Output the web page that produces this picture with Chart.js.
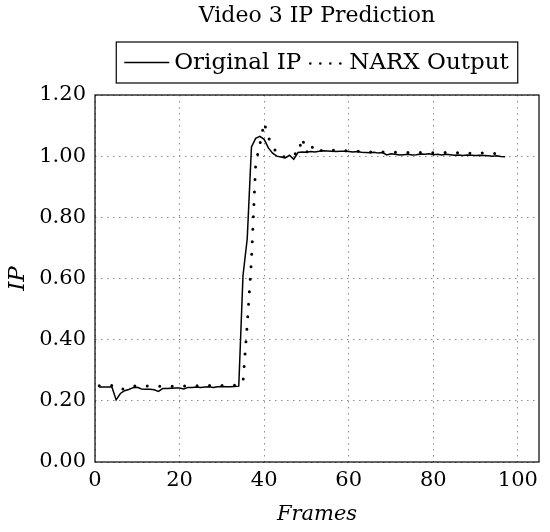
<!DOCTYPE html>
<html>
<head>
<meta charset="utf-8">
<script src="https://cdn.jsdelivr.net/npm/chart.js@4.4.1/dist/chart.umd.min.js"></script>
<style>
  html, body { margin: 0; padding: 0; background: #fff; }
  #wrap { width: 550px; height: 532px; position: relative; }
</style>
</head>
<body>
<div id="wrap"><canvas id="c" width="550" height="532"></canvas></div>
<script>
const titleText = "Video 3 IP Prediction";
const seriesNames = ["Original IP", "NARX Output"];
const xTitle = "Frames";
const yTitle = "IP";
const xTickValues = [0, 20, 40, 60, 80, 100];
const yTickValues = [0, 0.2, 0.4, 0.6, 0.8, 1.0, 1.2];
const xRange = [0, 105];
const yRange = [0, 1.2];

const frames = [1,2,3,4,5,6,7,8,9,10,11,12,13,14,15,16,17,18,19,20,
  21,22,23,24,25,26,27,28,29,30,31,32,33,34,35,36,37,38,39,40,
  41,42,43,44,45,46,47,48,49,50,51,52,53,54,55,56,57,58,59,60,
  61,62,63,64,65,66,67,68,69,70,71,72,73,74,75,76,77,78,79,80,
  81,82,83,84,85,86,87,88,89,90,91,92,93,94,95,96,97];

const originalIP = [0.245,0.245,0.245,0.245,0.203,0.224,0.233,0.237,0.243,0.244,
  0.239,0.238,0.238,0.236,0.231,0.240,0.240,0.241,0.242,0.242,
  0.239,0.244,0.244,0.245,0.244,0.245,0.246,0.244,0.246,0.247,
  0.246,0.246,0.247,0.248,0.610,0.730,1.030,1.058,1.065,1.055,
  1.027,1.010,1.000,0.997,0.994,1.003,0.990,1.012,1.014,1.013,
  1.015,1.014,1.016,1.018,1.017,1.016,1.015,1.016,1.016,1.015,
  1.014,1.015,1.013,1.012,1.011,1.013,1.010,1.012,1.004,1.008,
  1.006,1.004,1.005,1.006,1.004,1.005,1.007,1.006,1.008,1.005,
  1.006,1.004,1.006,1.005,1.003,1.004,1.002,1.004,1.003,1.002,
  1.003,1.002,1.001,1.000,1.001,0.999,0.998];

const narxOutput = [0.249,0.249,0.248,0.250,0.246,0.236,0.240,0.247,0.249,0.248,
  0.247,0.248,0.249,0.248,0.247,0.248,0.249,0.248,0.247,0.249,
  0.248,0.249,0.250,0.249,0.249,0.250,0.250,0.249,0.250,0.250,
  0.251,0.250,0.251,0.251,0.262,0.450,0.660,0.975,1.040,1.110,
  1.060,1.040,1.005,1.000,0.997,1.000,1.010,1.005,1.060,1.010,
  1.040,1.012,1.015,1.022,1.020,1.019,1.020,1.018,1.017,1.019,
  1.018,1.016,1.015,1.017,1.014,1.013,1.012,1.014,1.012,1.011,
  1.013,1.012,1.013,1.012,1.011,1.013,1.012,1.014,1.012,1.011,
  1.012,1.010,1.013,1.011,1.010,1.012,1.010,1.011,1.009,1.012,
  1.010,1.011,1.009,1.010,1.008,1.009,1.007];

const FONT = "'DejaVu Serif', 'Liberation Serif', serif";

const framePlugin = {
  id: 'frameAndLegend',
  afterDraw(chart) {
    const ctx = chart.ctx;
    const a = chart.chartArea;
    ctx.save();
    // axis box
    ctx.strokeStyle = '#000';
    ctx.lineWidth = 1.2;
    ctx.setLineDash([]);
    ctx.strokeRect(a.left, a.top, a.right - a.left, a.bottom - a.top);

    // title
    const cx = (a.left + a.right) / 2;
    ctx.fillStyle = '#000';
    ctx.font = "22px " + FONT;
    ctx.textAlign = 'center';
    ctx.textBaseline = 'middle';
    ctx.fillText(titleText, cx, 16);

    // legend
    const ds = chart.data.datasets;
    ctx.font = "23px " + FONT;
    const w1 = ctx.measureText(ds[0].label).width;
    const w2 = ctx.measureText(ds[1].label).width;
    const padL = 8, lineW = 45, gap1 = 5, gap2 = 9, dotsW = 30, gap3 = 9, padR = 9;
    const boxW = padL + lineW + gap1 + w1 + gap2 + dotsW + gap3 + w2 + padR;
    const bx = cx - boxW / 2, by = 42, bh = 41;
    const my = by + bh / 2;
    ctx.lineWidth = 1.2;
    ctx.strokeStyle = '#000';
    ctx.strokeRect(bx, by, boxW, bh);
    let x = bx + padL;
    ctx.lineWidth = ds[0].borderWidth;
    ctx.beginPath();
    ctx.moveTo(x, my); ctx.lineTo(x + lineW, my); ctx.stroke();
    x += lineW + gap1;
    ctx.textAlign = 'left';
    ctx.fillText(ds[0].label, x, my + 1);
    x += w1 + gap2;
    ctx.lineWidth = 2.6;
    ctx.lineCap = 'round';
    ctx.setLineDash([0, 10]);
    ctx.beginPath();
    ctx.moveTo(x, my + 1); ctx.lineTo(x + dotsW + 1, my + 1); ctx.stroke();
    ctx.setLineDash([]);
    x += dotsW + gap3;
    ctx.fillText(ds[1].label, x, my + 1);
    ctx.restore();
  }
};

new Chart(document.getElementById('c'), {
  type: 'line',
  data: {
    datasets: [
      {
        label: seriesNames[0],
        data: frames.map((f, i) => ({ x: f, y: originalIP[i] })),
        borderColor: '#000',
        borderWidth: 1.5,
        pointRadius: 0,
        tension: 0,
        fill: false
      },
      {
        label: seriesNames[1],
        data: frames.map((f, i) => ({ x: f, y: narxOutput[i] })),
        borderColor: '#000',
        borderWidth: 3,
        borderDash: [0, 12.5],
        borderCapStyle: 'round',
        pointRadius: 0,
        tension: 0,
        fill: false
      }
    ]
  },
  options: {
    responsive: false,
    animation: false,
    devicePixelRatio: 1,
    layout: { padding: { left: 0, right: 11, top: 95, bottom: 0 } },
    plugins: {
      legend: { display: false },
      title: { display: false },
      tooltip: { enabled: false }
    },
    scales: {
      x: {
        type: 'linear',
        min: xRange[0],
        max: xRange[1],
        afterBuildTicks: (s) => { s.ticks = xTickValues.map(v => ({ value: v })); },
        afterFit: (s) => { s.height = 70; },
        grid: { color: '#8a8a8a', lineWidth: 1, drawTicks: false },
        border: { display: false, dash: [1.5, 4.5] },
        ticks: {
          color: '#000',
          font: { family: FONT, size: 21 },
          padding: 6,
          maxRotation: 0,
          callback: (v) => String(v)
        },
        title: {
          display: true,
          text: xTitle,
          color: '#000',
          font: { family: FONT, size: 21, style: 'italic' },
          padding: { top: 0, bottom: 5 }
        }
      },
      y: {
        type: 'linear',
        min: yRange[0],
        max: yRange[1],
        afterBuildTicks: (s) => { s.ticks = yTickValues.map(v => ({ value: v })); },
        afterFit: (s) => { s.width = 95; },
        grid: { color: '#8a8a8a', lineWidth: 1, drawTicks: false },
        border: { display: false, dash: [1.5, 4.5] },
        ticks: {
          color: '#000',
          font: { family: FONT, size: 21 },
          padding: 9,
          callback: (v) => Number(v).toFixed(2)
        },
        title: {
          display: true,
          text: yTitle,
          color: '#000',
          font: { family: FONT, size: 23, style: 'italic' },
          padding: { top: 4, bottom: 0 }
        }
      }
    }
  },
  plugins: [framePlugin]
});
</script>
</body>
</html>
